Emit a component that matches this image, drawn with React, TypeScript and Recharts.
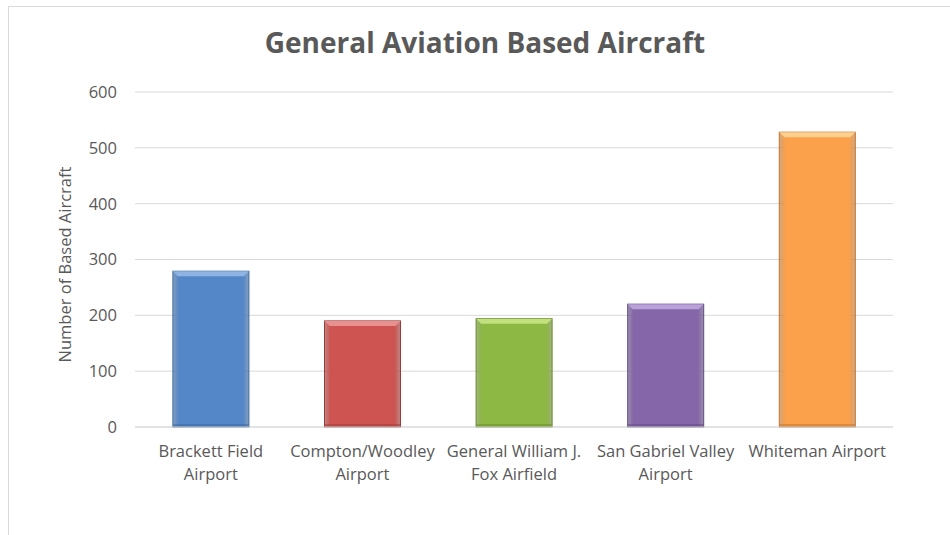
import React from 'react';
import { BarChart, Bar, XAxis, YAxis, CartesianGrid, Cell } from 'recharts';

const airports = [
  'Brackett Field Airport',
  'Compton/Woodley Airport',
  'General William J. Fox Airfield',
  'San Gabriel Valley Airport',
  'Whiteman Airport',
];
const basedAircraft = [279, 190, 194, 220, 528];
const tickLines = [
  ['Brackett Field', 'Airport'],
  ['Compton/Woodley', 'Airport'],
  ['General William J.', 'Fox Airfield'],
  ['San Gabriel Valley', 'Airport'],
  ['Whiteman Airport'],
];
const yTicks = [0, 100, 200, 300, 400, 500, 600];
const barColors = [
  { fill: '#5387c8', light: '#8fb4e3', dark: '#3a669c' },
  { fill: '#cd5450', light: '#e8908e', dark: '#9c3a38' },
  { fill: '#8db843', light: '#c3e07e', dark: '#67892a' },
  { fill: '#8566a8', light: '#b9a2d8', dark: '#5f4880' },
  { fill: '#fba14b', light: '#fdd08f', dark: '#c17330' },
];

const data = airports.map((name, i) => ({ name, value: basedAircraft[i], idx: i }));

const FONT = '"Open Sans", sans-serif';
const TEXT = '#595959';

// bar with a light bevel on top and darker edges
const BevelBar = (props: any) => {
  const { x, y, width, height, index } = props;
  const c = barColors[index];
  const b = 5;
  return (
    <g>
      <rect x={x} y={y} width={width} height={height} fill={`url(#barGrad${index})`} stroke={c.dark} strokeWidth={1} />
      <polygon
        points={`${x},${y} ${x + width},${y} ${x + width - b},${y + b} ${x + b},${y + b}`}
        fill={c.light}
      />
      <rect x={x} y={y + height - 3} width={width} height={3} fill={c.dark} opacity={0.5} />
    </g>
  );
};

const AirportTick = (props: any) => {
  const { x, y, index } = props;
  const lines = tickLines[index] || [];
  return (
    <g transform={`translate(${x},${y})`}>
      {lines.map((line, i) => (
        <text key={i} x={0} y={22 + i * 23} textAnchor="middle" fill={TEXT} fontSize={16.5} fontFamily={FONT}>
          {line}
        </text>
      ))}
    </g>
  );
};

export default function App() {
  return (
    <div style={{ position: 'absolute', left: 0, top: 0, width: 950, height: 535, background: '#fff', overflow: 'hidden' }}>
      <div
        style={{
          position: 'absolute',
          left: 8,
          top: 6,
          width: 950,
          height: 540,
          border: '1px solid #d9d9d9',
          boxSizing: 'border-box',
        }}
      />
      <div
        style={{
          position: 'absolute',
          left: 0,
          top: 23,
          width: 970,
          textAlign: 'center',
          fontFamily: FONT,
          fontWeight: 'bold',
          fontSize: 28,
          color: TEXT,
        }}
      >
        General Aviation Based Aircraft
      </div>
      <div style={{ position: 'absolute', left: 0, top: 0 }}>
        <BarChart
          width={950}
          height={535}
          data={data}
          margin={{ top: 92, right: 57, left: 75, bottom: 48 }}
          barCategoryGap="25%"
        >
          <defs>
            {barColors.map((c, i) => (
              <linearGradient key={i} id={`barGrad${i}`} x1="0" y1="0" x2="1" y2="0">
                <stop offset="0%" stopColor={c.dark} stopOpacity={0.6} />
                <stop offset="8%" stopColor={c.fill} />
                <stop offset="92%" stopColor={c.fill} />
                <stop offset="100%" stopColor={c.dark} stopOpacity={0.6} />
              </linearGradient>
            ))}
          </defs>
          <CartesianGrid vertical={false} stroke="#d9d9d9" />
          <XAxis
            dataKey="name"
            height={60}
            axisLine={{ stroke: '#d9d9d9' }}
            tickLine={false}
            tick={<AirportTick />}
            interval={0}
          />
          <YAxis
            width={60}
            domain={[0, 600]}
            ticks={yTicks}
            axisLine={false}
            tickLine={false}
            tick={{ fill: TEXT, fontSize: 16.5, fontFamily: FONT }}
            tickMargin={12}
            label={{
              value: 'Number of Based Aircraft',
              angle: -90,
              position: 'insideLeft',
              dx: -15,
              dy: 103,
              fill: TEXT,
              fontSize: 16.5,
              fontFamily: FONT,
            }}
          />
          <Bar dataKey="value" isAnimationActive={false} shape={<BevelBar />}>
            {data.map((d) => (
              <Cell key={d.idx} fill={barColors[d.idx].fill} />
            ))}
          </Bar>
        </BarChart>
      </div>
    </div>
  );
}
